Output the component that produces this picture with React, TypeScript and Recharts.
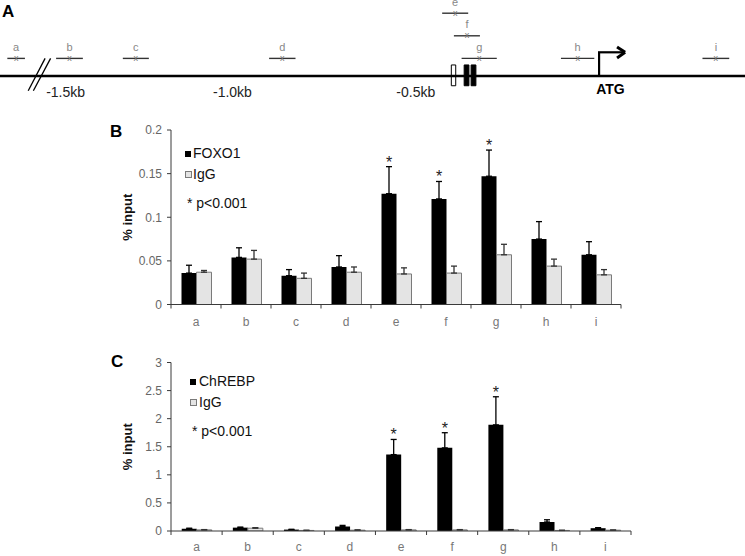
import React from "react"
import {
  Bar,
  BarChart,
  ErrorBar,
  Label,
  LabelList,
  Legend,
  ReferenceArea,
  ReferenceLine,
  Scatter,
  ScatterChart,
  XAxis,
  YAxis,
} from "recharts"

const FONT = "'Liberation Sans', Arial, Helvetica, sans-serif"
const AXIS = "#3a3a3a"
const IGG_FILL = "#e4e4e4"
const IGG_STROKE = "#7a7a7a"

// amplicons / x categories
const SITES = ["a", "b", "c", "d", "e", "f", "g", "h", "i"]
const SIGNIFICANT = [false, false, false, false, true, true, true, false, false]

// panel B: FOXO1 ChIP (% input)
const FOXO1 = [0.036, 0.054, 0.033, 0.043, 0.127, 0.121, 0.147, 0.075, 0.057]
const FOXO1_ERR = [0.009, 0.011, 0.007, 0.013, 0.031, 0.02, 0.03, 0.02, 0.015]
const FOXO1_IGG = [0.037, 0.052, 0.03, 0.037, 0.035, 0.036, 0.057, 0.044, 0.034]
const FOXO1_IGG_ERR = [0.002, 0.01, 0.006, 0.006, 0.007, 0.008, 0.012, 0.008, 0.006]
const FOXO1_TICKS = [0, 0.05, 0.1, 0.15, 0.2]

// panel C: ChREBP ChIP (% input)
const CHREBP = [0.04, 0.06, 0.025, 0.08, 1.36, 1.48, 1.89, 0.16, 0.05]
const CHREBP_ERR = [0.01, 0.01, 0.005, 0.02, 0.27, 0.27, 0.5, 0.04, 0.01]
const CHREBP_IGG = [0.02, 0.05, 0.01, 0.015, 0.02, 0.02, 0.02, 0.01, 0.015]
const CHREBP_IGG_ERR = [0.005, 0.01, 0.003, 0.005, 0.005, 0.005, 0.005, 0.003, 0.003]
const CHREBP_TICKS = [0, 0.5, 1, 1.5, 2, 2.5, 3]

// panel A: promoter map, bp relative to ATG
const AMPLICON_START = [-1614, -1481, -1299, -900, -428, -396, -375, -104, 282]
const AMPLICON_END = [-1566, -1408, -1228, -828, -357, -325, -279, -13, 355]
const AMPLICON_LANE = [1, 1, 1, 1, 3, 2, 1, 1, 1]
const ELEMENT_START = [-403, -368, -349]
const ELEMENT_END = [-391, -355, -336]
const ELEMENT_FILLED = [false, true, true]
const SCALE_LABELS = ["-1.5kb", "-1.0kb", "-0.5kb"]
const SCALE_POS = [-1455, -1000, -500]
const GENOME_DOMAIN = [-1634, 398]
const LANE_DOMAIN = [-1.283, 3.584]

const BACKBONE = 0.22

function Schematic() {
  const amplicons = SITES.map((site, i) => ({
    site,
    pos: (AMPLICON_START[i] + AMPLICON_END[i]) / 2,
    lane: AMPLICON_LANE[i],
  }))
  const scaleText = SCALE_LABELS.map((text, i) => ({ text, pos: SCALE_POS[i], lane: -0.49, bold: false }))
  scaleText.push({ text: "ATG", pos: 31, lane: -0.37, bold: true })

  return (
    <ScatterChart width={745} height={110} margin={{ top: 0, right: 0, bottom: 0, left: 0 }}>
      <XAxis type="number" dataKey="pos" domain={GENOME_DOMAIN} hide allowDataOverflow />
      <YAxis type="number" dataKey="lane" domain={LANE_DOMAIN} hide allowDataOverflow />
      <ReferenceLine
        segment={[{ x: GENOME_DOMAIN[0], y: BACKBONE }, { x: GENOME_DOMAIN[1], y: BACKBONE }]}
        stroke="#000"
        strokeWidth={2.6}
        ifOverflow="visible"
      />
      {/* axis break */}
      <ReferenceLine segment={[{ x: -1557, y: -0.43 }, { x: -1511, y: 1.0 }]} stroke="#000" strokeWidth={1.3} />
      <ReferenceLine segment={[{ x: -1543, y: -0.43 }, { x: -1496, y: 1.0 }]} stroke="#000" strokeWidth={1.3} />
      {SITES.map((site, i) => (
        <ReferenceLine
          key={site}
          segment={[
            { x: AMPLICON_START[i], y: AMPLICON_LANE[i] },
            { x: AMPLICON_END[i], y: AMPLICON_LANE[i] },
          ]}
          stroke="#333"
          strokeWidth={1.4}
        />
      ))}
      {ELEMENT_START.map((start, i) => (
        <ReferenceArea
          key={i}
          x1={start}
          x2={ELEMENT_END[i]}
          y1={-0.21}
          y2={0.71}
          fill={ELEMENT_FILLED[i] ? "#000" : "#fff"}
          fillOpacity={1}
          stroke="#000"
          strokeWidth={1}
        />
      ))}
      {/* transcription start arrow */}
      <ReferenceLine segment={[{ x: 0, y: BACKBONE }, { x: 0, y: 1.27 }]} stroke="#000" strokeWidth={2.2} />
      <ReferenceLine segment={[{ x: -3, y: 1.27 }, { x: 68, y: 1.27 }]} stroke="#000" strokeWidth={2.2} />
      <ReferenceLine segment={[{ x: 49, y: 1.5 }, { x: 71, y: 1.27 }]} stroke="#000" strokeWidth={3} />
      <ReferenceLine segment={[{ x: 49, y: 1.02 }, { x: 71, y: 1.27 }]} stroke="#000" strokeWidth={3} />
      <Scatter
        data={amplicons}
        isAnimationActive={false}
        shape={(p: any) => (
          <g fontFamily={FONT}>
            <text x={p.cx} y={p.cy + 2.5} textAnchor="middle" fontSize={9} fill="#777">
              x
            </text>
            <text x={p.cx} y={p.cy - 7.5} textAnchor="middle" fontSize={11} fill="#888">
              {p.payload.site}
            </text>
          </g>
        )}
      />
      <Scatter
        data={scaleText}
        isAnimationActive={false}
        shape={(p: any) => (
          <text
            x={p.cx}
            y={p.cy + 5}
            textAnchor="middle"
            fontSize={14}
            fontFamily={FONT}
            fontWeight={p.payload.bold ? "bold" : "normal"}
            fill={p.payload.bold ? "#000" : "#222"}
          >
            {p.payload.text}
          </text>
        )}
      />
    </ScatterChart>
  )
}

const StarLabel = (props: any) => {
  const { value } = props
  if (value == null) return null
  const vb = props.viewBox ?? props
  const top = vb.y - vb.height * value
  return (
    <text x={vb.x + vb.width / 2} y={top + 1} textAnchor="middle" fontSize={16} fontFamily={FONT} fill="#222">
      *
    </text>
  )
}

const SiteTick = (props: any) => {
  const { x, y, payload, index, band, labelDy } = props
  return (
    <g>
      <line x1={x - band / 2} x2={x - band / 2} y1={y} y2={y + 4} stroke={AXIS} />
      {index === SITES.length - 1 && <line x1={x + band / 2} x2={x + band / 2} y1={y} y2={y + 4} stroke={AXIS} />}
      <text x={x} y={y + labelDy} textAnchor="middle" fontSize={12} fontFamily={FONT} fill="#777">
        {payload.value}
      </text>
    </g>
  )
}

const ChartKey = ({ name, gap }: { name: string; gap: number }) => (
  <div style={{ fontFamily: FONT, fontSize: 14, lineHeight: "21px", color: "#111", whiteSpace: "nowrap" }}>
    <div>
      <span style={{ display: "inline-block", width: 6, height: 6, background: "#000", marginRight: gap, marginBottom: 1 }} />
      {name}
    </div>
    <div>
      <span
        style={{
          display: "inline-block",
          width: 5,
          height: 5,
          background: IGG_FILL,
          border: `1px solid ${IGG_STROKE}`,
          marginRight: gap - 1,
          marginBottom: 1,
        }}
      />
      IgG
    </div>
    <div style={{ marginTop: 8, paddingLeft: 2 }}>* p&lt;0.001</div>
  </div>
)

function ChipPanel({
  name,
  values,
  errors,
  igg,
  iggErr,
  ticks,
  height,
  marginTop,
  marginRight,
  axisHeight,
  legendLeft,
  legendTop,
  keyGap,
  labelDy,
}: any) {
  const rows = SITES.map((site, i) => ({
    site,
    main: values[i],
    mainErr: [0, errors[i]],
    igg: igg[i],
    iggErr: [0, iggErr[i]],
    star: SIGNIFICANT[i] ? errors[i] / values[i] : null,
  }))
  const band = (745 - 171 - marginRight) / SITES.length

  return (
    <BarChart
      width={745}
      height={height}
      data={rows}
      margin={{ top: marginTop, right: marginRight, bottom: 0, left: 0 }}
      barCategoryGap="21%"
      barGap={0}
    >
      <XAxis
        dataKey="site"
        height={axisHeight}
        stroke={AXIS}
        tickSize={0}
        tickMargin={0}
        tickLine={false}
        interval={0}
        tick={<SiteTick band={band} labelDy={labelDy} />}
      />
      <YAxis
        width={171}
        domain={[0, ticks[ticks.length - 1]]}
        ticks={ticks}
        interval={0}
        stroke={AXIS}
        tickSize={4}
        tickMargin={5}
        tick={{ fill: "#666", fontSize: 12, fontFamily: FONT }}
        allowDataOverflow
      >
        <Label
          value="% input"
          angle={-90}
          position="insideLeft"
          offset={127}
          style={{ textAnchor: "middle", fontFamily: FONT, fontSize: 13, fontWeight: "bold", fill: "#111" }}
        />
      </YAxis>
      <Legend
        layout="vertical"
        align="center"
        verticalAlign="middle"
        wrapperStyle={{ left: legendLeft, top: legendTop, width: "auto", height: "auto" }}
        content={() => <ChartKey name={name} gap={keyGap} />}
      />
      <Bar dataKey="main" name={name} fill="#000" isAnimationActive={false}>
        <ErrorBar dataKey="mainErr" direction="y" width={3} stroke="#000" strokeWidth={1.3} isAnimationActive={false} />
        <LabelList dataKey="star" content={StarLabel} />
      </Bar>
      <Bar dataKey="igg" name="IgG" fill={IGG_FILL} stroke={IGG_STROKE} strokeWidth={1} isAnimationActive={false}>
        <ErrorBar dataKey="iggErr" direction="y" width={3} stroke="#333" strokeWidth={1.3} isAnimationActive={false} />
      </Bar>
    </BarChart>
  )
}

export default function App() {
  return (
    <div style={{ position: "absolute", left: 0, top: 0, width: 745, height: 556, background: "#fff", overflow: "hidden" }}>
      <div style={{ position: "absolute", left: 0, top: 0 }}>
        <Schematic />
      </div>
      <div style={{ position: "absolute", left: 0, top: 110 }}>
        <ChipPanel
          name="FOXO1"
          values={FOXO1}
          errors={FOXO1_ERR}
          igg={FOXO1_IGG}
          iggErr={FOXO1_IGG_ERR}
          ticks={FOXO1_TICKS}
          height={225}
          marginTop={20}
          marginRight={124}
          axisHeight={30.5}
          legendLeft={185}
          legendTop={33}
          keyGap={2}
          labelDy={21}
        />
      </div>
      <div style={{ position: "absolute", left: 0, top: 335 }}>
        <ChipPanel
          name="ChREBP"
          values={CHREBP}
          errors={CHREBP_ERR}
          igg={CHREBP_IGG}
          iggErr={CHREBP_IGG_ERR}
          ticks={CHREBP_TICKS}
          height={221}
          marginTop={27.5}
          marginRight={114}
          axisHeight={25}
          legendLeft={190}
          legendTop={35.5}
          keyGap={3}
          labelDy={20}
        />
      </div>
      <svg
        width={745}
        height={556}
        style={{ position: "absolute", left: 0, top: 0, pointerEvents: "none" }}
        fontFamily={FONT}
        fontWeight="bold"
        fontSize={17}
      >
        <text x={2} y={17}>A</text>
        <text x={110} y={137}>B</text>
        <text x={111} y={367}>C</text>
      </svg>
    </div>
  )
}
